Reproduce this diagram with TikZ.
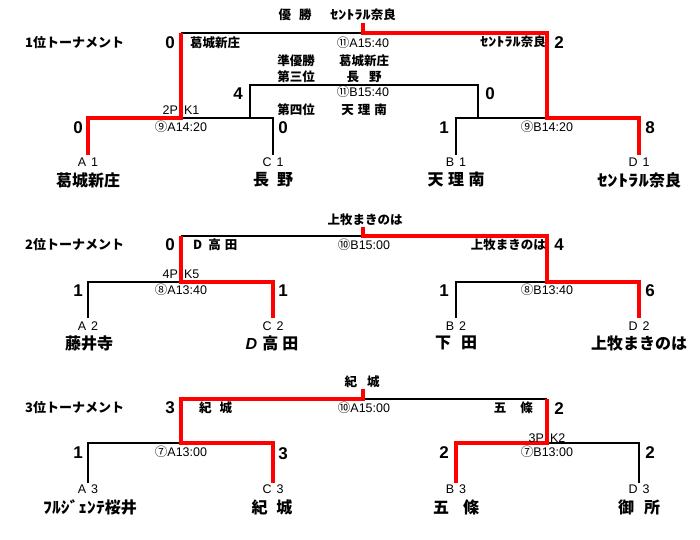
\documentclass[tikz,border=0pt]{standalone}
\usepackage{fontspec}
\usepackage{graphicx}
\setmainfont{Liberation Sans}
\newfontfamily\jp{Noto Sans CJK JP}
\newcommand{\hk}[1]{\scalebox{1.3}[1]{#1}}
\tikzset{
  blk/.style={line width=2.2pt, black, line join=miter},
  rd/.style={line width=3.8pt, red, line join=miter},
  score/.style={font=\bfseries\fontsize{17}{17}\selectfont, inner sep=0pt},
  team/.style={font=\jp\bfseries\fontsize{16}{16}\selectfont, inner sep=0pt},
  small/.style={font=\fontsize{12.5}{13}\selectfont, inner sep=0pt},
  lab/.style={font=\jp\bfseries\fontsize{12.5}{13}\selectfont, inner sep=0pt},
  ttl/.style={font=\jp\bfseries\fontsize{13}{13}\selectfont, inner sep=0pt, anchor=west},
}
\begin{document}
\begin{tikzpicture}[x=1pt,y=-1pt]
\useasboundingbox[fill=white] (0,0) rectangle (700,539);
% ================= Section 1 =================
\coordinate (A1) at (88,155); \coordinate (C1) at (273,155);
\coordinate (B1) at (456,155); \coordinate (D1) at (639,155);
\coordinate (SL1) at (181,118); \coordinate (SR1) at (547,118);
\coordinate (TL1) at (181,33); \coordinate (TR1) at (547,33);
\coordinate (F1) at (363,33); \coordinate (T1) at (363,23);
\coordinate (PL1) at (250,118); \coordinate (PR1) at (478,118);
\draw[blk] (SL1) -| (C1);
\draw[blk] (B1) |- (SR1);
\draw[blk] (TL1) -- (F1);
\draw[blk] (PL1) -- ++(0,-33) -| (PR1);
\draw[rd] (A1) |- (SL1) -- (TL1);
\draw[rd] (T1) -- (F1) -- (TR1) -- (SR1) -| (D1);
\node[lab] (w1a) at (295,15) {優\hspace{8pt}勝};
\node[lab] (w1b) at (363,15) {\hk{ｾﾝﾄﾗﾙ}奈良};
\node[ttl] (t1) at (25,43) {1位トーナメント};
\node[score] (s1a) at (170,43) {0};
\node[lab,anchor=west] (n1a) at (190,43) {葛城新庄};
\node[small] (m1a) at (363,43) {{\jp ⑪}A15:40};
\node[lab,anchor=east] (n1b) at (546,42) {\hk{ｾﾝﾄﾗﾙ}奈良};
\node[score] (s1b) at (559,43) {2};
\node[lab] (r2a) at (296,61) {準優勝};
\node[lab] (r2b) at (364,61) {葛城新庄};
\node[lab] (r3a) at (296,77) {第三位};
\node[lab] (r3b) at (364,77) {長\hspace{10pt}野};
\node[score] (s1c) at (238,94) {4};
\node[small] (m1b) at (363,92) {{\jp ⑪}B15:40};
\node[score] (s1d) at (490,94) {0};
\node[lab] (r4a) at (296,110) {第四位};
\node[lab] (r4b) at (364,110) {天\hspace{4pt}理\hspace{4pt}南};
\node[small] (pk1) at (181,110) {2P\hspace{6pt}K1};
\node[small] (m1c) at (181,127) {{\jp ⑨}A14:20};
\node[small] (m1d) at (547,127) {{\jp ⑨}B14:20};
\node[score] (s1e) at (78,128) {0};
\node[score] (s1f) at (283,128) {0};
\node[score] (s1g) at (444,128) {1};
\node[score] (s1h) at (650,128) {8};
\node[small] (c1a) at (88,162) {A\hspace{5pt}1};
\node[small] (c1b) at (273,162) {C\hspace{5pt}1};
\node[small] (c1c) at (456,162) {B\hspace{5pt}1};
\node[small] (c1d) at (639,162) {D\hspace{5pt}1};
\node[team] (e1a) at (88,180) {葛城新庄};
\node[team] (e1b) at (273,180) {長\hspace{8pt}野};
\node[team] (e1c) at (456,180) {天\hspace{4.5pt}理\hspace{4.5pt}南};
\node[team] (e1d) at (639,180) {\hk{ｾﾝﾄﾗﾙ}奈良};
% ================= Section 2 =================
\coordinate (A2) at (88,318); \coordinate (C2) at (273,318);
\coordinate (B2) at (456,318); \coordinate (D2) at (639,318);
\coordinate (SL2) at (181,282); \coordinate (SR2) at (547,282);
\coordinate (TL2) at (181,236); \coordinate (TR2) at (547,236);
\coordinate (F2) at (363,236); \coordinate (T2) at (363,227);
\draw[blk] (A2) |- (SL2);
\draw[blk] (B2) |- (SR2);
\draw[blk] (TL2) -- (F2);
\draw[rd] (TL2) -- (SL2) -| (C2);
\draw[rd] (T2) -- (F2) -- (TR2) -- (SR2) -| (D2);
\node[lab] (w2) at (365,220) {上牧まきのは};
\node[ttl] (t2) at (25,245) {2位トーナメント};
\node[score] (s2a) at (170,245) {0};
\node[lab,anchor=west] (n2a) at (193,245) {D\hspace{6pt}高\hspace{4pt}田};
\node[small] (m2a) at (364,245) {{\jp ⑩}B15:00};
\node[lab,anchor=east] (n2b) at (546,245) {上牧まきのは};
\node[score] (s2b) at (559,245) {4};
\node[small] (pk2) at (181,274) {4P\hspace{6pt}K5};
\node[small] (m2b) at (181,290) {{\jp ⑧}A13:40};
\node[small] (m2c) at (547,290) {{\jp ⑧}B13:40};
\node[score] (s2c) at (78,291) {1};
\node[score] (s2d) at (283,291) {1};
\node[score] (s2e) at (444,291) {1};
\node[score] (s2f) at (650,291) {6};
\node[small] (c2a) at (88,326) {A\hspace{5pt}2};
\node[small] (c2b) at (273,326) {C\hspace{5pt}2};
\node[small] (c2c) at (456,326) {B\hspace{5pt}2};
\node[small] (c2d) at (639,326) {D\hspace{5pt}2};
\node[team] (e2a) at (89,343) {藤井寺};
\node[team] (e2b) at (272,343) {{\rmfamily\bfseries\itshape D}\hspace{5pt}高\hspace{4pt}田};
\node[team] (e2c) at (456,343) {下\hspace{10pt}田};
\node[team] (e2d) at (639,343) {上牧まきのは};
% ================= Section 3 =================
\coordinate (A3) at (88,483); \coordinate (C3) at (273,483);
\coordinate (B3) at (456,483); \coordinate (D3) at (639,483);
\coordinate (SL3) at (181,443); \coordinate (SR3) at (547,443);
\coordinate (TL3) at (181,399); \coordinate (TR3) at (547,399);
\coordinate (F3) at (363,399); \coordinate (T3) at (363,389);
\draw[blk] (A3) |- (SL3);
\draw[blk] (SR3) -| (D3);
\draw[blk] (F3) -- (TR3);
\draw[rd] (T3) -- (F3) -- (TL3) -- (SL3) -| (C3);
\draw[rd] (TR3) -- (SR3) -| (B3);
\node[lab] (w3) at (362,382) {紀\hspace{10pt}城};
\node[ttl] (t3) at (25,408) {3位トーナメント};
\node[score] (s3a) at (170,408) {3};
\node[lab,anchor=west] (n3a) at (199,408) {紀\hspace{8pt}城};
\node[small] (m3a) at (364,408) {{\jp ⑩}A15:00};
\node[lab,anchor=east] (n3b) at (533,408) {五\hspace{14pt}條};
\node[score] (s3b) at (559,409) {2};
\node[small] (pk3) at (547,438) {3P\hspace{6pt}K2};
\node[small] (m3b) at (181,452) {{\jp ⑦}A13:00};
\node[small] (m3c) at (547,452) {{\jp ⑦}B13:00};
\node[score] (s3c) at (78,453) {1};
\node[score] (s3d) at (283,454) {3};
\node[score] (s3e) at (444,453) {2};
\node[score] (s3f) at (650,453) {2};
\node[small] (c3a) at (88,489) {A\hspace{5pt}3};
\node[small] (c3b) at (273,489) {C\hspace{5pt}3};
\node[small] (c3c) at (456,489) {B\hspace{5pt}3};
\node[small] (c3d) at (639,489) {D\hspace{5pt}3};
\node[team] (e3a) at (90,507) {\scalebox{1.1}[1]{ﾌﾙｼﾞｪﾝﾃ}桜井};
\node[team] (e3b) at (272,507) {紀\hspace{9pt}城};
\node[team] (e3c) at (456,507) {五\hspace{14pt}條};
\node[team] (e3d) at (639,507) {御\hspace{10pt}所};
\end{tikzpicture}
\end{document}
